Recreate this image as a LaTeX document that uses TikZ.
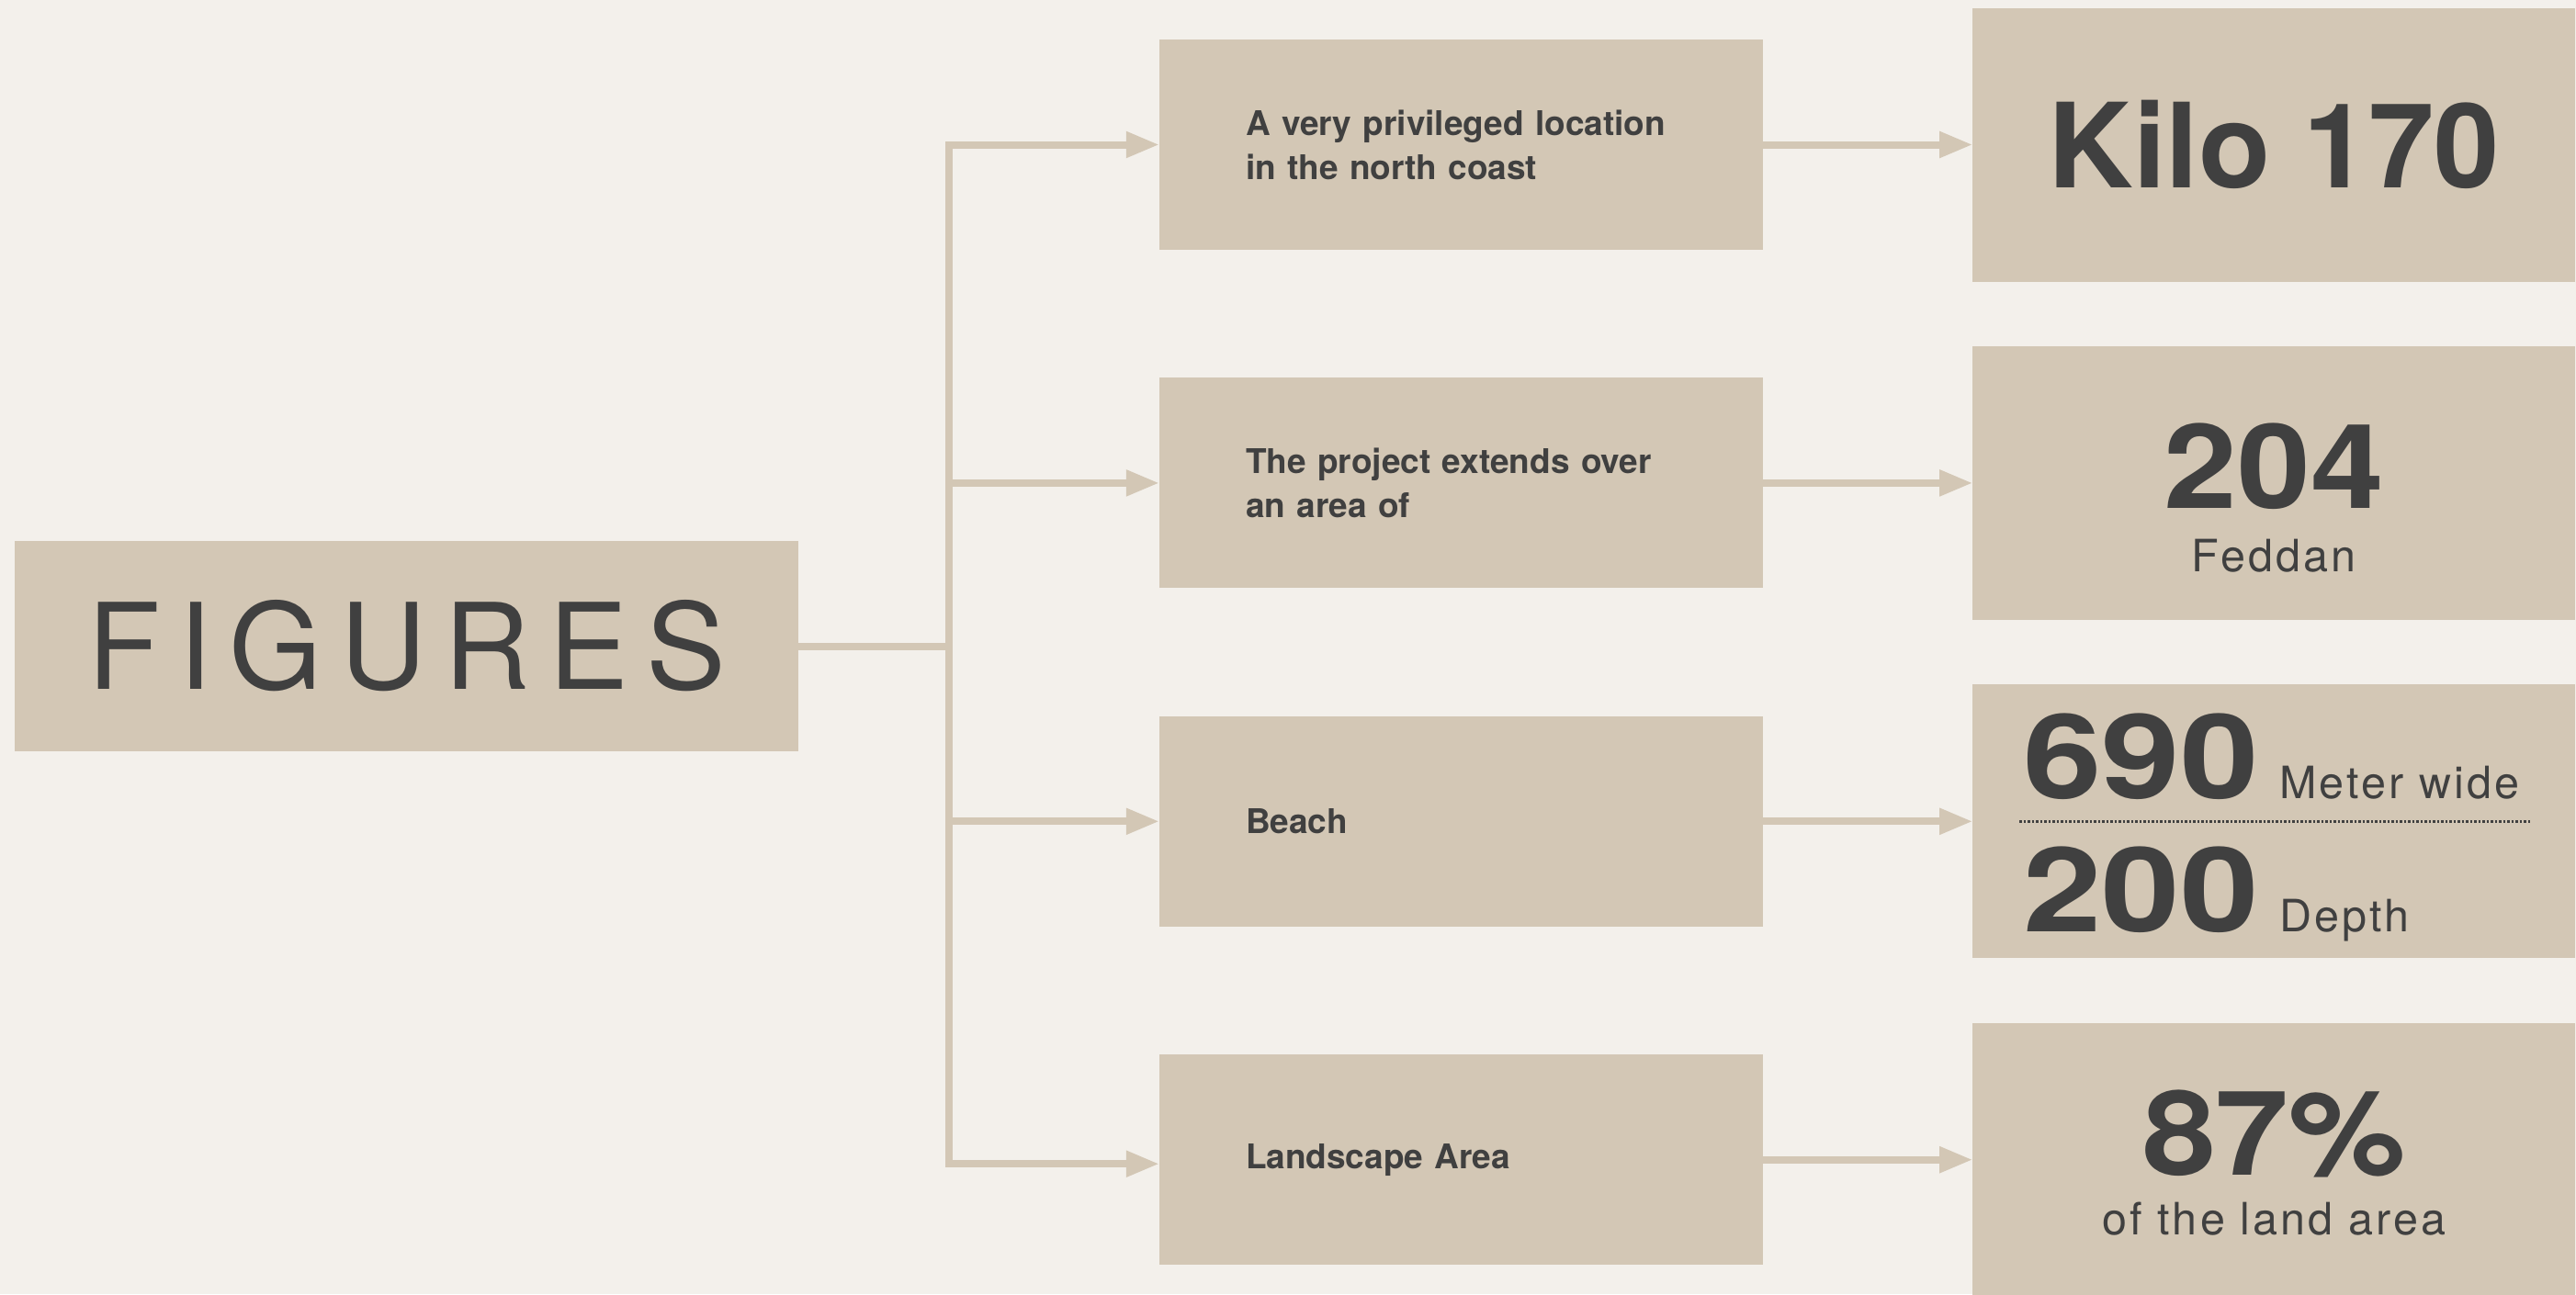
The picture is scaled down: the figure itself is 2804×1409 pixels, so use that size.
\documentclass[tikz,border=0pt]{standalone}
\usepackage{fontspec}
\setmainfont{TeX Gyre Heros}
\newfontfamily\spacedfont[LetterSpace=15]{TeX Gyre Heros}
\newfontfamily\trackedfont[LetterSpace=6.5]{TeX Gyre Heros}
\newfontfamily\widefont[FakeStretch=1.12]{TeX Gyre Heros}
\newfontfamily\widerfont[FakeStretch=1.2]{TeX Gyre Heros}
\usetikzlibrary{positioning,arrows.meta}

\definecolor{paper}{HTML}{F3F0EB}
\definecolor{sand}{HTML}{D3C7B5}
\definecolor{ink}{HTML}{404040}

\newcommand{\bignum}[1]{{\widefont\bfseries\fontsize{128}{140}\selectfont #1}}
\newcommand{\beachnum}[1]{{\widerfont\bfseries\fontsize{128}{140}\selectfont #1}}
\newcommand{\unitlabel}[1]{{\trackedfont\fontsize{48.5}{58}\selectfont #1}}

\begin{document}
\begin{tikzpicture}[
    x=1pt, y=-1pt,
    every node/.style={
        inner sep=0pt,
        text=ink
      },
    figbox/.style={
        fill=sand,
        minimum width=853pt,
        minimum height=229pt,
        font=\spacedfont\fontsize{130}{150}\selectfont
      },
    midbox/.style={
        fill=sand,
        minimum width=657pt,
        minimum height=229pt,
        text width=469pt,
        inner xsep=94pt,
        align=left,
        font=\bfseries\fontsize{37}{48}\selectfont
      },
    valbox/.style={
        fill=sand,
        minimum width=656pt,
        minimum height=298pt
      },
    link/.style={draw=sand, line width=8pt},
    arrow/.style={link, -{Triangle[length=36pt,width=27pt]}},
    dotrule/.style={draw=ink, line width=2.5pt, dash pattern=on 2.5pt off 2pt}
    ]

    % ============= FOND ==================
    \fill[paper] (0,0) rectangle (2804,1409);
    \useasboundingbox (0,0) rectangle (2804,1409);

    % ============= FIGURES (GAUCHE) ==================

    % -------------------------------
    \node[figbox] (F) at (442.5,703.5) {FIGURES};
    % -------------------------------

    % ============= TEXTES (MILIEU) ==================

    % -------------------------------
    \node[midbox] (M1) at (1590.5,157.5) {
      A very privileged location\\in the north coast
    };
    % -------------------------------

    % -------------------------------
    \node[midbox, below=139pt of M1] (M2) {
      The project extends over\\an area of
    };
    % -------------------------------

    % -------------------------------
    \node[midbox, below=139pt of M2] (M3) {Beach};
    % -------------------------------

    % -------------------------------
    \node[midbox, below=139pt of M3] (M4) {Landscape Area};
    % -------------------------------

    % ============= CHIFFRES (DROITE) ==================

    % -------------------------------
    \node[valbox, right=228pt of M1, font=\bfseries\fontsize{128}{150}\selectfont] (R1) {Kilo 170};
    % -------------------------------

    % -------------------------------
    \node[valbox, right=228pt of M2] (R2) {};
    \node[anchor=base] (N204) at ([yshift=-28pt]R2.center) {\bignum{204}};
    \node[anchor=base] (U204) at ([yshift=-97pt]R2.center) {\unitlabel{Feddan}};
    % -------------------------------

    % -------------------------------
    \node[valbox, right=228pt of M3] (R3) {};
    \node[anchor=base west] (N690) at ([xshift=55pt,yshift=24.5pt]R3.west) {\beachnum{690}};
    \node[anchor=base west] (U690) at ([xshift=334pt,yshift=24.5pt]R3.west) {\unitlabel{Meter wide}};
    \node[anchor=base west] (N200) at ([xshift=55pt,yshift=-120.5pt]R3.west) {\beachnum{200}};
    \node[anchor=base west] (U200) at (U690.base west |- N200.base) {\unitlabel{Depth}};
    \draw[dotrule] ([xshift=51pt]R3.west) -- ([xshift=-49pt]R3.east);
    % -------------------------------

    % -------------------------------
    \node[valbox, right=228pt of M4] (R4) {};
    \node[anchor=base] (N87) at ([yshift=-16.5pt]R4.center) {\bignum{87\%}};
    \node[anchor=base] (U87) at ([yshift=-81.5pt]R4.center) {\unitlabel{of the land area}};
    % -------------------------------

    % ============= LIGNES ==================
    \coordinate (T) at ([xshift=164pt]F.east);
    \draw[link] (F) -- (T);
    \draw[arrow] (T) |- (M1);
    \draw[arrow] (T) |- (M2);
    \draw[arrow] (T) |- (M3);
    \draw[arrow] (T) |- ([yshift=-4.5pt]M4.west);

    \draw[arrow] (M1) -- (R1);
    \draw[arrow] (M2) -- (R2);
    \draw[arrow] (M3) -- (R3);
    \draw[arrow] (M4) -- (R4);

  \end{tikzpicture}
\end{document}
